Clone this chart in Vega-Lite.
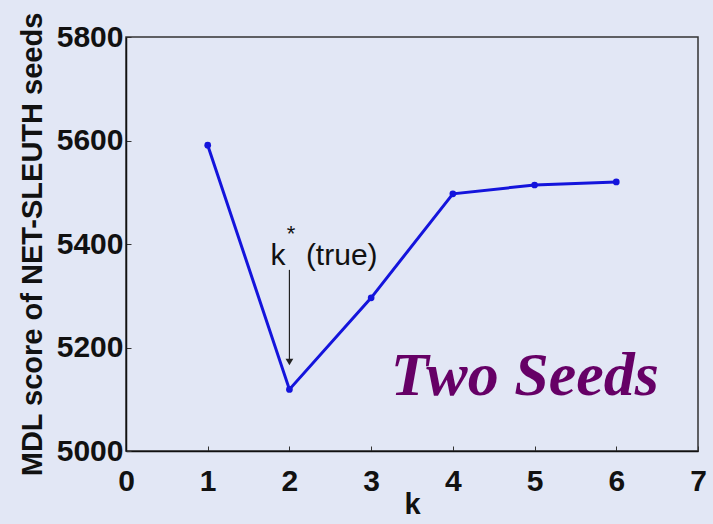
{
  "$schema": "https://vega.github.io/schema/vega-lite/v6.json",
  "width": 572,
  "height": 414,
  "autosize": {"type": "none"},
  "padding": {"left": 126, "top": 37, "right": 15, "bottom": 73},
  "background": "#e2e7f5",
  "config": {
    "view": {"stroke": "#333333", "strokeWidth": 1.5},
    "font": "Liberation Sans",
    "axis": {
      "domainColor": "#111111",
      "domainWidth": 1.5,
      "tickColor": "#333333",
      "tickSize": -5,
      "grid": false,
      "labelFont": "Liberation Sans",
      "labelFontWeight": "bold",
      "labelFontSize": 30,
      "labelColor": "#111111",
      "titleFont": "Liberation Sans",
      "titleFontWeight": "bold",
      "titleFontSize": 29,
      "titleColor": "#111111",
      "labelOverlap": false,
      "labelBound": false,
      "labelFlush": false
    }
  },
  "datasets": {
    "scores": [
      {"k": 1, "score": 5591},
      {"k": 2, "score": 5119},
      {"k": 3, "score": 5296},
      {"k": 4, "score": 5497},
      {"k": 5, "score": 5514},
      {"k": 6, "score": 5520}
    ],
    "notes": [
      {"k": 1.86, "score": 5377, "label": "k", "size": 30},
      {"k": 2.02, "score": 5420, "label": "*", "size": 22},
      {"k": 2.64, "score": 5377, "label": "(true)", "size": 30}
    ],
    "arrow": [{"k": 2, "top": 5350, "bottom": 5170}],
    "head": [{"k": 2, "score": 5172}],
    "panel": [{"k": 4.88, "score": 5108, "label": "Two Seeds"}]
  },
  "encoding": {
    "x": {
      "field": "k",
      "type": "quantitative",
      "scale": {"domain": [0, 7], "nice": false},
      "axis": {"values": [0, 1, 2, 3, 4, 5, 6, 7], "format": "d", "title": "k", "labelPadding": 20, "titlePadding": -6}
    },
    "y": {
      "field": "score",
      "type": "quantitative",
      "scale": {"domain": [5000, 5800], "nice": false, "zero": false},
      "axis": {"values": [5000, 5200, 5400, 5600, 5800], "format": "d", "title": "MDL score of NET-SLEUTH seeds", "labelPadding": 8, "titlePadding": 9}
    }
  },
  "layer": [
    {
      "data": {"name": "scores"},
      "mark": {"type": "line", "color": "#1414dc", "strokeWidth": 3,
               "point": {"filled": true, "color": "#1414dc", "size": 45}}
    },
    {
      "data": {"name": "arrow"},
      "mark": {"type": "rule", "color": "#222222", "strokeWidth": 1.2},
      "encoding": {"y": {"field": "top", "type": "quantitative"}, "y2": {"field": "bottom"}}
    },
    {
      "data": {"name": "head"},
      "mark": {"type": "point", "shape": "triangle-down", "filled": true, "color": "#222222", "size": 60, "opacity": 1}
    },
    {
      "data": {"name": "notes"},
      "mark": {"type": "text", "font": "Liberation Sans", "color": "#111111", "align": "center", "baseline": "middle"},
      "encoding": {"text": {"field": "label"}, "size": {"field": "size", "type": "quantitative", "scale": null}}
    },
    {
      "data": {"name": "panel"},
      "mark": {"type": "text", "font": "Liberation Serif", "fontStyle": "italic", "fontWeight": "bold", "fontSize": 62, "color": "#660066", "align": "center", "baseline": "alphabetic"},
      "encoding": {"text": {"field": "label"}}
    }
  ]
}
